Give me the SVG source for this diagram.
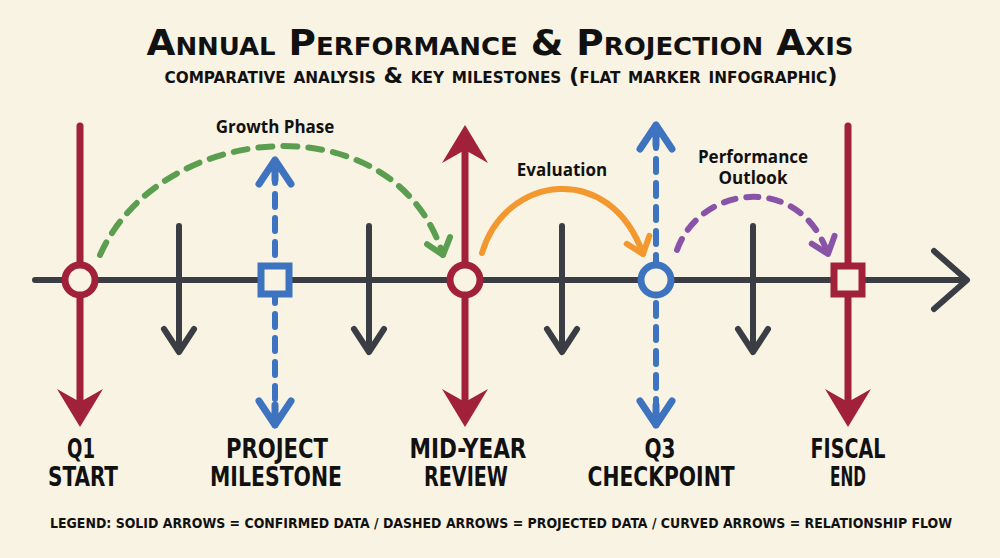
<svg xmlns="http://www.w3.org/2000/svg" xmlns:xlink="http://www.w3.org/1999/xlink" width="1000" height="558" viewBox="0 0 1000 558">
<style>
.bg{fill:#f9f3e3}
.title{font-family:"Liberation Sans Narrow","DejaVu Sans Condensed","Liberation Sans",sans-serif;font-weight:bold;fill:#111;text-anchor:middle;font-variant:small-caps}
.lbl{font-family:"Liberation Sans Narrow","DejaVu Sans Condensed","Liberation Sans",sans-serif;font-weight:bold;fill:#111;text-anchor:middle;font-size:26px}
.curvelbl{font-family:"Open Sans","DejaVu Sans",sans-serif;font-weight:bold;fill:#111;text-anchor:middle;font-size:17px}
.legend{font-family:"Liberation Sans Narrow","DejaVu Sans Condensed","Liberation Sans",sans-serif;font-weight:bold;fill:#111;font-size:14px}
.red{stroke:#a1213a;stroke-width:7;fill:none;stroke-linecap:round}
.blue{stroke:#3e74bf;stroke-width:6;fill:none;stroke-linecap:round;stroke-dasharray:13 11}
.dark{stroke:#3a3d43;stroke-width:6;fill:none;stroke-linecap:round;stroke-linejoin:round}
.redfill{fill:#a1213a}
.bluehead{stroke:#3e74bf;stroke-width:7;fill:none;stroke-linecap:round;stroke-linejoin:round}
.ring{fill:#f9f3e3;stroke-width:7}
</style>
<defs>
<path id="redHead" d="M0,0 L-23,-38 L0,-25 L23,-38 Z"/>
<path id="blueHead" d="M-16,-24 L0,0 L16,-24 M0,0 L0,-20"/>
<path id="darkHead" d="M-15,-23 L0,0 L15,-23"/>
<marker id="mGreen" markerUnits="userSpaceOnUse" viewBox="-20 -16 24 32" refX="0" refY="0" markerWidth="24" markerHeight="32" orient="auto">
<path d="M-15,-12 L0,0 L-15,12" fill="none" stroke="#5c9e50" stroke-width="6" stroke-linecap="round" stroke-linejoin="round"/>
</marker>
<marker id="mOrange" markerUnits="userSpaceOnUse" viewBox="-20 -16 24 32" refX="0" refY="0" markerWidth="24" markerHeight="32" orient="auto">
<path d="M-15,-12 L0,0 L-15,12" fill="none" stroke="#f3982f" stroke-width="6" stroke-linecap="round" stroke-linejoin="round"/>
</marker>
<marker id="mPurple" markerUnits="userSpaceOnUse" viewBox="-20 -16 24 32" refX="0" refY="0" markerWidth="24" markerHeight="32" orient="auto">
<path d="M-15,-12 L0,0 L-15,12" fill="none" stroke="#8953a8" stroke-width="6" stroke-linecap="round" stroke-linejoin="round"/>
</marker>
</defs>
<rect class="bg" x="0" y="0" width="1000" height="558"/>

<g id="title">
<text class="title" x="500" y="55" font-size="36" textLength="707" lengthAdjust="spacingAndGlyphs">Annual Performance &amp; Projection Axis</text>
<text class="title" x="501" y="83" font-size="22" textLength="673" lengthAdjust="spacingAndGlyphs">comparative analysis &amp; key milestones (flat marker infographic)</text>
</g>

<g id="axis">
<line class="dark" x1="35" y1="280" x2="962" y2="280" stroke-width="9"/>
<path class="dark" d="M934,251 L967,280 L934,309" stroke-width="10"/>
</g>

<g id="connectors">
<path d="M100,255 C160,120 395,100 443,255" fill="none" stroke="#5c9e50" stroke-width="6" stroke-dasharray="14 11" stroke-linecap="round" marker-end="url(#mGreen)"/>
<path d="M482,253 C505,175 610,160 643,254" fill="none" stroke="#f3982f" stroke-width="6" stroke-linecap="round" marker-end="url(#mOrange)"/>
<path d="M677,250 C700,185 800,172 828,254" fill="none" stroke="#8953a8" stroke-width="6" stroke-dasharray="12 11" stroke-linecap="round" marker-end="url(#mPurple)"/>
<text class="curvelbl" x="275" y="133">Growth Phase</text>
<text class="curvelbl" x="562" y="176">Evaluation</text>
<text class="curvelbl" x="753" y="163">Performance</text>
<text class="curvelbl" x="753" y="184">Outlook</text>
</g>

<g id="ticks">
<line class="dark" x1="179" y1="226" x2="179" y2="350"/><use xlink:href="#darkHead" class="dark" x="179" y="352"/>
<line class="dark" x1="369" y1="226" x2="369" y2="350"/><use xlink:href="#darkHead" class="dark" x="369" y="352"/>
<line class="dark" x1="562" y1="226" x2="562" y2="350"/><use xlink:href="#darkHead" class="dark" x="562" y="352"/>
<line class="dark" x1="753" y1="226" x2="753" y2="350"/><use xlink:href="#darkHead" class="dark" x="753" y="352"/>
</g>

<g id="node-q1">
<line class="red" x1="80" y1="126" x2="80" y2="405"/>
<use xlink:href="#redHead" class="redfill" x="80" y="427"/>
<circle class="ring" cx="80" cy="280" r="15" stroke="#a1213a"/>
<text class="lbl" x="81" y="458" textLength="28" lengthAdjust="spacingAndGlyphs">Q1</text>
<text class="lbl" x="83" y="486" textLength="70" lengthAdjust="spacingAndGlyphs">START</text>
</g>

<g id="node-project">
<line class="blue" x1="275" y1="170" x2="275" y2="418"/>
<use xlink:href="#blueHead" class="bluehead" transform="translate(275,160) rotate(180)"/>
<use xlink:href="#blueHead" class="bluehead" x="275" y="425"/>
<rect x="261" y="266" width="28" height="28" fill="#f9f3e3" stroke="#3e74bf" stroke-width="7"/>
<text class="lbl" x="277" y="458" textLength="102" lengthAdjust="spacingAndGlyphs">PROJECT</text>
<text class="lbl" x="276" y="486" textLength="132" lengthAdjust="spacingAndGlyphs">MILESTONE</text>
</g>

<g id="node-midyear">
<line class="red" x1="465" y1="148" x2="465" y2="405"/>
<use xlink:href="#redHead" class="redfill" transform="translate(465,125) rotate(180)"/>
<use xlink:href="#redHead" class="redfill" x="465" y="427"/>
<circle class="ring" cx="465" cy="280" r="15" stroke="#a1213a"/>
<text class="lbl" x="468" y="458" textLength="117" lengthAdjust="spacingAndGlyphs">MID-YEAR</text>
<text class="lbl" x="466" y="486" textLength="84" lengthAdjust="spacingAndGlyphs">REVIEW</text>
</g>

<g id="node-q3">
<line class="blue" x1="656" y1="135" x2="656" y2="418"/>
<use xlink:href="#blueHead" class="bluehead" transform="translate(656,125) rotate(180)"/>
<use xlink:href="#blueHead" class="bluehead" x="656" y="425"/>
<circle class="ring" cx="656" cy="280" r="15" stroke="#3e74bf"/>
<text class="lbl" x="660" y="458" textLength="31" lengthAdjust="spacingAndGlyphs">Q3</text>
<text class="lbl" x="661" y="486" textLength="147" lengthAdjust="spacingAndGlyphs">CHECKPOINT</text>
</g>

<g id="node-fiscal">
<line class="red" x1="848" y1="126" x2="848" y2="405"/>
<use xlink:href="#redHead" class="redfill" x="848" y="427"/>
<rect x="834" y="266" width="28" height="28" fill="#f9f3e3" stroke="#a1213a" stroke-width="7"/>
<text class="lbl" x="848" y="458" textLength="75" lengthAdjust="spacingAndGlyphs">FISCAL</text>
<text class="lbl" x="848" y="486" textLength="36" lengthAdjust="spacingAndGlyphs">END</text>
</g>

<g id="legend">
<text class="legend" x="50" y="528" textLength="902" lengthAdjust="spacingAndGlyphs">LEGEND: SOLID ARROWS = CONFIRMED DATA / DASHED ARROWS = PROJECTED DATA / CURVED ARROWS = RELATIONSHIP FLOW</text>
</g>
</svg>
